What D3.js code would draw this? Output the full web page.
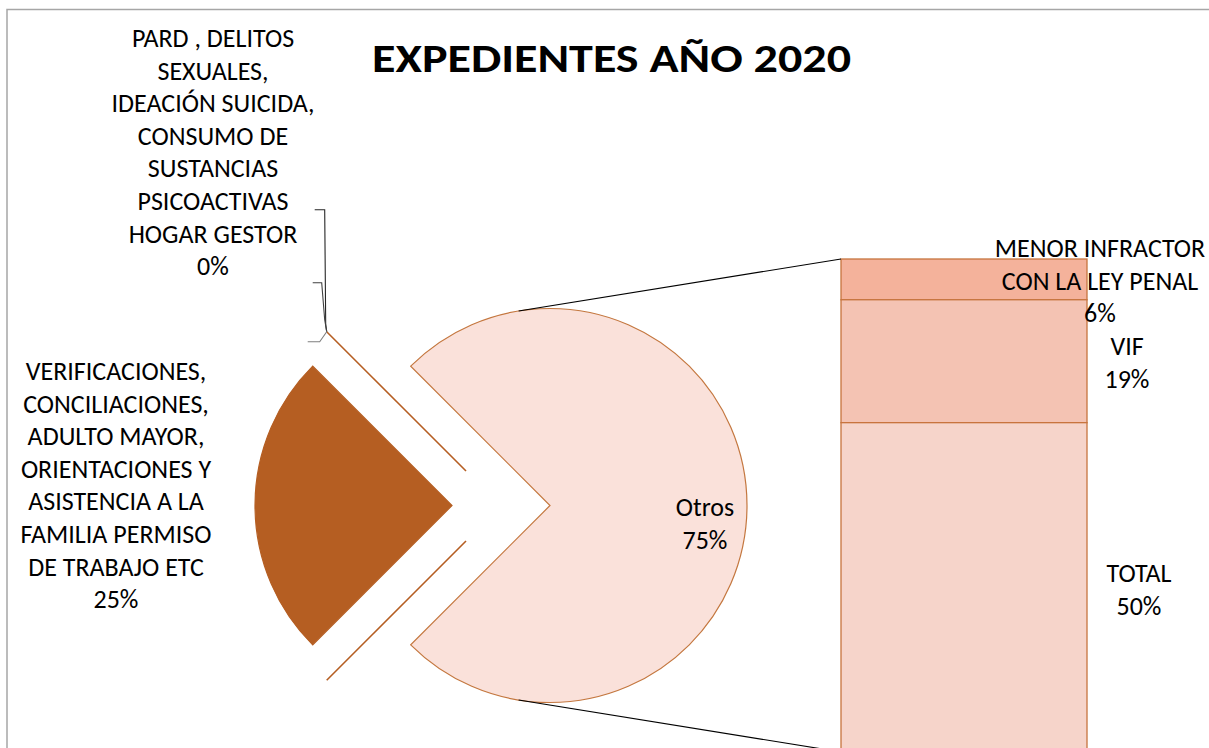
<!DOCTYPE html>
<html>
<head>
<meta charset="utf-8">
<script src="https://cdn.jsdelivr.net/npm/d3@7"></script>
<style>
  html, body { margin: 0; padding: 0; background: #fff; }
  svg { display: block; }
  text { font-family: Calibri, Carlito, Lato, "Liberation Sans", sans-serif; fill: #000; }
</style>
</head>
<body>
<svg id="chart" width="1209" height="748"></svg>
<script>
// ---------------- DATA ----------------
const title = "EXPEDIENTES AÑO 2020";

// secondary (bar) categories, top to bottom
const barCategories = ["MENOR INFRACTOR CON LA LEY PENAL", "VIF", "TOTAL"];
const barValues = [6.2, 18.7, 50.1];
const barLabelLines = [["MENOR INFRACTOR", "CON LA LEY PENAL"], ["VIF"], ["TOTAL"]];

// primary pie categories (the "Otros" slice is the sum of the bar)
const pieCategories = ["Otros", "", "VERIFICACIONES", "PARD"];
const pieOwnValues = [null, 0, 25.0, 0];
const pieLabelLines = [
  ["Otros"],
  [],
  ["VERIFICACIONES,", "CONCILIACIONES,", "ADULTO MAYOR,", "ORIENTACIONES Y", "ASISTENCIA A LA", "FAMILIA PERMISO", "DE TRABAJO ETC"],
  ["PARD , DELITOS", "SEXUALES,", "IDEACIÓN SUICIDA,", "CONSUMO DE", "SUSTANCIAS", "PSICOACTIVAS", "HOGAR GESTOR"]
];

// ---------------- LAYOUT / STYLE ----------------
const W = 1209, H = 748;
const pieCenter = [550, 505.5];
const pieR = 197;
const explode = [[0, 0], [-84, 35.5], [-98, 0], [-84, -34.5]];
const pieFill = ["#FAE1DA", "none", "#B55E22", "none"];
const pieStroke = ["#C4773F", "#B55E22", "#B55E22", "#B55E22"];
const pieLabelPos = [[705, 516], null, [116, 380], [213, 47]];

const barX = 841, barW = 246, barTop = 259, barBottom = 752;
const barFill = ["#F4B29B", "#F4C3B3", "#F6D4CA"];
const barLabelPos = [[1100, 257], [1127, 355], [1139, 582]];

const lineH = 32.6;
const fontSize = 26;

const svg = d3.select("#chart");

// chart border
svg.append("rect")
  .attr("x", 7).attr("y", 9.5)
  .attr("width", W + 20).attr("height", H + 20)
  .attr("fill", "none").attr("stroke", "#A6A6A6").attr("stroke-width", 1.5);

// title
svg.append("text")
  .attr("x", 611.5).attr("y", 72)
  .attr("text-anchor", "middle")
  .style("font-weight", "bold")
  .style("font-size", "40px")
  .attr("textLength", 479).attr("lengthAdjust", "spacingAndGlyphs")
  .text(title);

// ---- pie ----
const barTotal = d3.sum(barValues);
const pieValues = pieOwnValues.map(v => v === null ? barTotal : v);
const total = d3.sum(pieValues);
const pct = v => Math.round(v / total * 100) + "%";

const pie = d3.pie().sort(null).value(d => d)
  .startAngle(-Math.PI / 4).endAngle(2 * Math.PI - Math.PI / 4);
const arcs = pie(pieValues);
const arcGen = d3.arc().innerRadius(0).outerRadius(pieR);

const pieG = svg.append("g").attr("transform", `translate(${pieCenter[0]},${pieCenter[1]})`);

arcs.forEach((a, i) => {
  const [dx, dy] = explode[i];
  const g = pieG.append("g").attr("transform", `translate(${dx},${dy})`);
  if (a.endAngle - a.startAngle < 1e-9) {
    const p = d3.pointRadial(a.startAngle, pieR);
    g.append("line").attr("x1", 0).attr("y1", 0).attr("x2", p[0]).attr("y2", p[1])
      .attr("stroke", pieStroke[i]).attr("stroke-width", 1.6);
  } else {
    g.append("path").attr("d", arcGen(a))
      .attr("fill", pieFill[i]).attr("stroke", pieStroke[i]).attr("stroke-width", 1.2);
  }
});

// ---- bar ----
const y = d3.scaleLinear().domain([0, barTotal]).range([barTop, barBottom]);
const cum = d3.cumsum(barValues);
barValues.forEach((v, i) => {
  const y0 = y(cum[i] - v), y1 = y(cum[i]);
  svg.append("rect")
    .attr("x", barX).attr("y", y0).attr("width", barW).attr("height", y1 - y0)
    .attr("fill", barFill[i]).attr("stroke", "#C7743E").attr("stroke-width", 1.3);
});

// ---- connector lines (tangent from bar corners to pie) ----
function tangent(P, upper) {
  const [cx, cy] = pieCenter;
  const dx = P[0] - cx, dy = P[1] - cy;
  const d = Math.hypot(dx, dy);
  const th = Math.atan2(dy, dx);
  const al = Math.acos(pieR / d);
  const t = upper ? th - al : th + al;
  return [cx + pieR * Math.cos(t), cy + pieR * Math.sin(t)];
}
[[barX, y(0), true], [barX, y(barTotal), false]].forEach(([px, py, up]) => {
  const t = tangent([px, py], up);
  svg.append("line").attr("x1", t[0]).attr("y1", t[1]).attr("x2", px).attr("y2", py)
    .attr("stroke", "#000").attr("stroke-width", 1.1);
});

// ---- leader lines for the zero slice label ----
const zi = 3;
const zp = d3.pointRadial(arcs[zi].startAngle, pieR);
const P = [pieCenter[0] + explode[zi][0] + zp[0], pieCenter[1] + explode[zi][1] + zp[1]];
const leaders = [
  [[-12, -122], [-2, -122], [-1, -7], [0, 0]],
  [[-14, -49], [-5, -49], [-2, -12], [0, 0]],
  [[-19, 10], [-7, 10], [0, 0]]
];
const leaderColors = ["#262626", "#404040", "#7F7F7F"];
leaders.forEach((pts, i) => {
  svg.append("path")
    .attr("d", d3.line()(pts.map(p => [P[0] + p[0], P[1] + p[1]])))
    .attr("fill", "none").attr("stroke", leaderColors[i]).attr("stroke-width", 1.1);
});

// ---- labels ----
function multiLabel(x, yb, lines) {
  const t = svg.append("text").attr("text-anchor", "middle").style("font-size", fontSize + "px");
  lines.forEach((ln, k) => {
    t.append("tspan").attr("x", x).attr("y", yb + k * lineH).text(ln);
  });
}
pieLabelLines.forEach((lines, i) => {
  if (!pieLabelPos[i]) return;
  const [x, yb] = pieLabelPos[i];
  multiLabel(x, yb, lines.concat([pct(pieValues[i])]));
});
barLabelLines.forEach((lines, i) => {
  const [x, yb] = barLabelPos[i];
  multiLabel(x, yb, lines.concat([pct(barValues[i])]));
});
</script>
</body>
</html>
